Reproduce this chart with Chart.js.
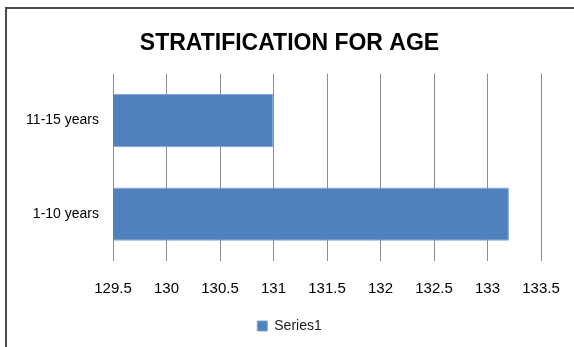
<!DOCTYPE html>
<html>
<head>
<meta charset="utf-8">
<script src="https://cdn.jsdelivr.net/npm/chart.js@4/dist/chart.umd.min.js"></script>
<style>
  body { margin: 0; background: #fff; }
  #wrap { position: relative; width: 574px; height: 347px; overflow: hidden; }
  #frame { position: absolute; left: 5px; top: 7px; width: 600px; height: 400px;
           border-left: 2px solid #4a4a4a; border-top: 2px solid #4a4a4a; pointer-events: none; }
  canvas { position: absolute; left: 0; top: 0; }
</style>
</head>
<body>
<div id="wrap">
  <canvas id="chart" width="574" height="347"></canvas>
  <div id="frame"></div>
</div>
<script>
// datos del gráfico
const categories = ["11-15 years", "1-10 years"];
const series1 = [131, 133.2];
const seriesName = "Series1";
const xMin = 129.5, xMax = 133.5, xStep = 0.5;

const font = "'Liberation Sans', Arial, sans-serif";

const ctx = document.getElementById("chart").getContext("2d");
new Chart(ctx, {
  type: "bar",
  data: {
    labels: categories,
    datasets: [{
      label: seriesName,
      data: series1,
      backgroundColor: "#4F81BD",
      borderColor: "#7FA3D0",
      borderWidth: 1,
      barPercentage: 0.57,
      categoryPercentage: 1
    }]
  },
  options: {
    indexAxis: "y",
    responsive: false,
    animation: false,
    layout: { padding: { left: 24, right: 19, top: 0, bottom: 4 } },
    plugins: {
      title: {
        display: true,
        text: "STRATIFICATION FOR AGE",
        color: "#000",
        font: { family: font, size: 23, weight: "bold" },
        padding: { top: 30, bottom: 16 }
      },
      legend: {
        position: "bottom",
        labels: {
          color: "#222",
          font: { family: font, size: 14 },
          boxWidth: 10,
          boxHeight: 10,
          padding: 10
        }
      },
      tooltip: { enabled: false }
    },
    scales: {
      x: {
        min: xMin,
        max: xMax,
        border: { display: false },
        grid: { color: "#8c8c8c", drawTicks: false },
        ticks: {
          stepSize: xStep,
          color: "#000",
          padding: 19,
          font: { family: font, size: 15 },
          callback: v => String(Number(v))
        },
        // área del gráfico: 113 a 541 px
        afterFit: s => { s.height = 48; s.paddingLeft = 0; s.paddingRight = 33; }
      },
      y: {
        border: { display: false },
        grid: { display: false, drawTicks: false },
        ticks: {
          color: "#000",
          padding: 14,
          font: { family: font, size: 14 }
        },
        afterFit: s => { s.width = 89; }
      }
    }
  }
});
</script>
</body>
</html>
